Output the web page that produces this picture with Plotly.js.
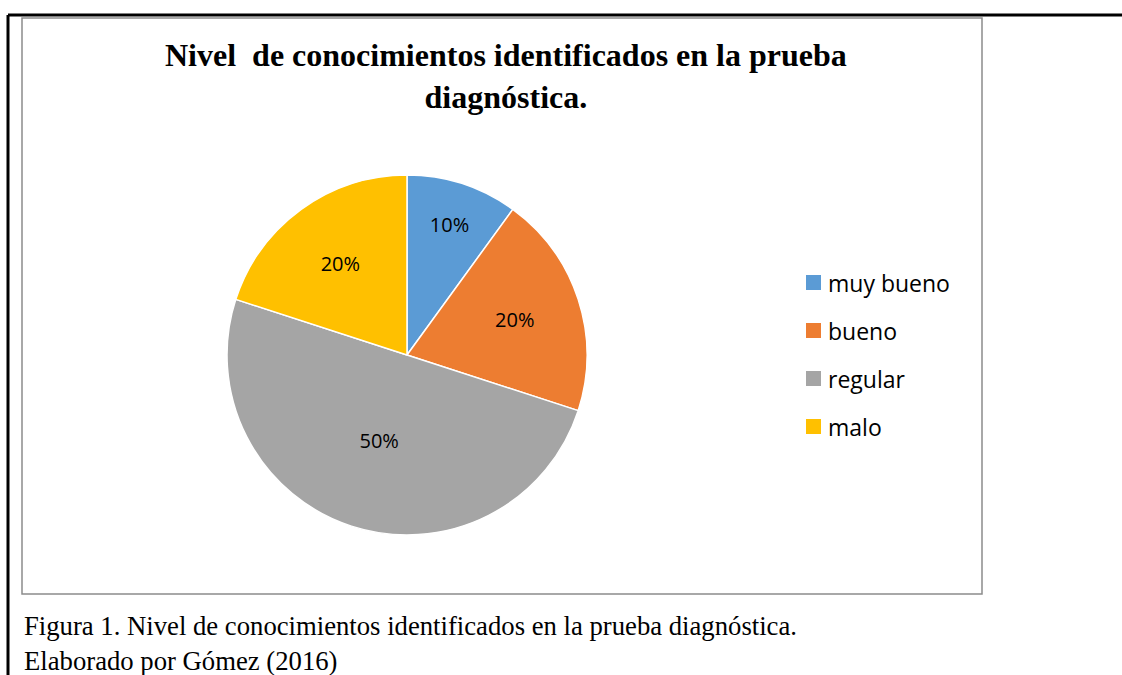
<!DOCTYPE html>
<html><head><meta charset="utf-8">
<script src="https://cdn.plot.ly/plotly-3.0.1.min.js"></script>
<style>html,body{margin:0;padding:0;background:#fff}#chart{width:1122px;height:675px}</style>
</head><body><div id="chart"></div>
<script>
const categories = ["muy bueno", "bueno", "regular", "malo"];
const values = [10, 20, 50, 20];
const colors = ["#5B9BD5", "#ED7D31", "#A5A5A5", "#FFC000"];
const titleLines = ["Nivel  de conocimientos identificados en la prueba", "diagnóstica."];
const captionLines = ["Figura 1. Nivel de conocimientos identificados en la prueba diagnóstica.", "Elaborado por Gómez (2016)"];

const W = 1122, H = 675;
const px = x => x / W, py = y => 1 - y / H;
const serif = "Liberation Serif, Times New Roman, serif";
const sans = "Open Sans, Noto Sans, sans-serif";

const shapes = [
  {type:"line", xref:"paper", yref:"paper", x0:px(8), x1:1, y0:py(15), y1:py(15), line:{color:"#000", width:3}},
  {type:"line", xref:"paper", yref:"paper", x0:px(8), x1:px(8), y0:py(15), y1:0, line:{color:"#000", width:3}},
  {type:"rect", xref:"paper", yref:"paper", x0:px(22), x1:px(982), y0:py(18), y1:py(594), line:{color:"#8c8c8c", width:1.5}}
];
const annotations = [
  {xref:"paper", yref:"paper", x:px(506), y:py(76), text:titleLines.map(t => "<b>" + t + "</b>").join("<br>"), showarrow:false,
   font:{family:serif, size:32, color:"#000"}, align:"center", xanchor:"center", yanchor:"middle"},
  {xref:"paper", yref:"paper", x:px(22), y:py(678), text:captionLines.join("<br>"), showarrow:false,
   font:{family:serif, size:26.7, color:"#000"}, align:"left", xanchor:"left", yanchor:"bottom"}
];
// legend built from categories/colors
categories.forEach((c, i) => {
  const yc = 283 + i * 48;
  shapes.push({type:"rect", xref:"paper", yref:"paper", x0:px(806), x1:px(821), y0:py(yc+7), y1:py(yc-8),
    fillcolor:colors[i], line:{width:0}});
  annotations.push({xref:"paper", yref:"paper", x:px(826), y:py(yc), text:c, showarrow:false, xanchor:"left", yanchor:"middle",
    font:{family:sans, size:23, color:"#000"}});
});

const trace = {
  type:"pie", labels:categories, values:values, sort:false, direction:"clockwise", rotation:0,
  marker:{colors:colors, line:{color:"#fff", width:1.5}},
  texttemplate:"%{percent:.0%}", textposition:"inside", insidetextorientation:"horizontal",
  textfont:{family:sans, size:20, color:"#000"},
  hoverinfo:"label+percent",
  domain:{x:[px(227), px(587)], y:[py(535), py(175)]},
  showlegend:false
};

Plotly.newPlot("chart", [trace], {
  width:W, height:H, margin:{l:0,r:0,t:0,b:0}, paper_bgcolor:"#fff", plot_bgcolor:"#fff",
  shapes:shapes, annotations:annotations, showlegend:false
}, {displayModeBar:false, staticPlot:true});
</script></body></html>
